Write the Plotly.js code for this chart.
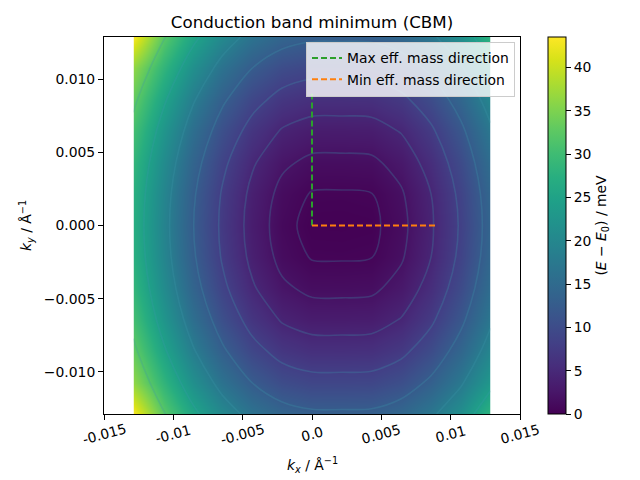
<!DOCTYPE html>
<html>
<head>
<meta charset="utf-8">
<script src="https://cdn.plot.ly/plotly-3.0.1.min.js"></script>
<style>html,body{margin:0;padding:0;background:#fff;}#chart{width:640px;height:480px;}</style>
</head>
<body>
<div id="chart"></div>
<script>
// k-grid (1/Å)
const kx = [-0.01287, -0.01073, -0.00858, -0.00644, -0.00429, -0.00215, 0, 0.00215, 0.00429, 0.00644, 0.00858, 0.01073, 0.01287];
const ky = [-0.01287, -0.01073, -0.00858, -0.00644, -0.00429, -0.00215, 0, 0.00215, 0.00429, 0.00644, 0.00858, 0.01073, 0.01287];
// E - E0 (meV), rows follow ky (bottom to top), columns follow kx
const energy = [
  [43.30, 32.53, 25.69, 20.34, 16.44, 14.03, 13.10, 13.07, 13.17, 14.45, 17.20, 21.44, 28.40],
  [36.28, 28.54, 21.70, 16.35, 12.45, 10.04,  9.11,  9.08,  9.18, 10.46, 13.21, 17.45, 23.13],
  [33.01, 25.27, 18.43, 13.08,  9.18,  6.77,  5.84,  5.81,  5.91,  7.19,  9.94, 14.18, 19.86],
  [30.47, 22.73, 15.89, 10.54,  6.64,  4.23,  3.30,  3.27,  3.37,  4.65,  7.40, 11.64, 17.32],
  [28.65, 20.91, 14.07,  8.72,  4.82,  2.41,  1.48,  1.45,  1.55,  2.83,  5.58,  9.82, 15.50],
  [27.56, 19.82, 12.98,  7.63,  3.73,  1.32,  0.39,  0.36,  0.46,  1.74,  4.49,  8.73, 14.41],
  [27.20, 19.46, 12.62,  7.27,  3.37,  0.96,  0.03,  0.00,  0.10,  1.38,  4.13,  8.37, 14.05],
  [27.56, 19.82, 12.98,  7.63,  3.73,  1.32,  0.39,  0.36,  0.46,  1.74,  4.49,  8.73, 14.41],
  [28.65, 20.91, 14.07,  8.72,  4.82,  2.41,  1.48,  1.45,  1.55,  2.83,  5.58,  9.82, 15.50],
  [30.47, 22.73, 15.89, 10.54,  6.64,  4.23,  3.30,  3.27,  3.37,  4.65,  7.40, 11.64, 17.32],
  [33.01, 25.27, 18.43, 13.08,  9.18,  6.77,  5.84,  5.81,  5.91,  7.19,  9.94, 14.18, 19.86],
  [36.28, 28.54, 21.70, 16.35, 12.45, 10.04,  9.11,  9.08,  9.18, 10.46, 13.21, 17.45, 23.13],
  [43.30, 32.53, 25.69, 20.34, 16.44, 14.03, 13.10, 13.07, 13.17, 14.45, 17.20, 21.44, 28.40]
];
const contourLevels = [0.5, 2, 4.5, 8, 12.5, 18, 24.5, 32];

const maxDirX = [0, 0];
const maxDirY = [0, 0.009];
const minDirX = [0, 0.009];
const minDirY = [0, 0];

const xTickVals = [-0.015, -0.01, -0.005, 0, 0.005, 0.01, 0.015];
const xTickText = ['-0.015', '-0.01', '-0.005', '0.0', '0.005', '0.01', '0.015'];
const yTickVals = [-0.01, -0.005, 0, 0.005, 0.01];
const yTickText = ['\u22120.010', '\u22120.005', '0.000', '0.005', '0.010'];
const cbTickVals = [0, 5, 10, 15, 20, 25, 30, 35, 40];

const FONT = 'DejaVu Sans, sans-serif';
const traces = [];

traces.push({
  type: 'contour', x: kx, y: ky, z: energy,
  colorscale: 'Viridis', zmin: 0, zmax: 43.5,
  contours: {coloring: 'heatmap', showlines: false, start: 0, end: 43.5, size: 0.5},
  line: {width: 0},
  hoverinfo: 'skip', showlegend: false,
  colorbar: {
    x: 1.067, xanchor: 'left', xpad: 0, ypad: 0,
    y: 0.5, yanchor: 'middle', len: 1, lenmode: 'fraction',
    thickness: 18, outlinewidth: 1, outlinecolor: '#000',
    ticks: 'outside', ticklen: 5, tickwidth: 1, tickcolor: '#000',
    tickvals: cbTickVals, tickfont: {family: FONT, size: 13.9, color: '#000'},
    title: {text: '(<i>E</i> \u2212 <i>E</i><sub>0</sub>) / meV', side: 'right',
            font: {family: FONT, size: 13.9, color: '#000'}}
  }
});

contourLevels.forEach(function (lv) {
  traces.push({
    type: 'contour', x: kx, y: ky, z: energy,
    autocontour: false,
    contours: {coloring: 'none', start: lv, end: lv, size: 1, showlines: true},
    line: {color: 'rgba(60,150,170,0.27)', width: 1.6, smoothing: 0.9},
    showscale: false, hoverinfo: 'skip', showlegend: false
  });
});

traces.push({
  type: 'scatter', mode: 'lines', x: maxDirX, y: maxDirY,
  name: 'Max eff. mass direction',
  line: {color: '#2ca02c', width: 2, dash: '6px,3px'}
});
traces.push({
  type: 'scatter', mode: 'lines', x: minDirX, y: minDirY,
  name: 'Min eff. mass direction',
  line: {color: '#ff7f0e', width: 2, dash: '6px,3px'}
});

const annotations = xTickVals.map(function (v, i) {
  return {
    xref: 'x', yref: 'paper', x: v, y: -0.052, xanchor: 'center', yanchor: 'middle',
    text: xTickText[i], textangle: -15, showarrow: false,
    font: {family: FONT, size: 13.9, color: '#000'}
  };
});
annotations.push({
  xref: 'paper', yref: 'paper', x: 0.5, y: -0.135, xanchor: 'center', yanchor: 'middle',
  text: '<i>k</i><sub><i>x</i></sub> / \u00C5<sup>\u22121</sup>', showarrow: false,
  font: {family: FONT, size: 13.9, color: '#000'}
});

const layout = {
  width: 640, height: 480,
  margin: {l: 104, r: 120, t: 37, b: 66, pad: 0},
  paper_bgcolor: '#fff', plot_bgcolor: '#fff',
  font: {family: FONT, size: 13.9, color: '#000'},
  title: {text: 'Conduction band minimum (CBM)', x: 312 / 640, xanchor: 'center',
          y: 1 - 22 / 480, yanchor: 'middle', font: {family: FONT, size: 16.7, color: '#000'}},
  xaxis: {
    range: [-0.015, 0.015], showgrid: false, zeroline: false,
    showline: true, mirror: true, linecolor: '#000', linewidth: 1,
    ticks: 'outside', ticklen: 5, tickwidth: 1, tickcolor: '#000',
    tickvals: xTickVals, showticklabels: false
  },
  yaxis: {
    range: [-0.01287, 0.01287], showgrid: false, zeroline: false,
    showline: true, mirror: true, linecolor: '#000', linewidth: 1,
    ticks: 'outside', ticklen: 5, tickwidth: 1, tickcolor: '#000',
    tickvals: yTickVals, ticktext: yTickText,
    tickfont: {family: FONT, size: 13.9, color: '#000'},
    title: {text: '<i>k</i><sub><i>y</i></sub> / \u00C5<sup>\u22121</sup>', standoff: 8,
            font: {family: FONT, size: 13.9, color: '#000'}}
  },
  annotations: annotations,
  legend: {
    x: 0.988, xanchor: 'right', y: 0.988, yanchor: 'top',
    bgcolor: 'rgba(255,255,255,0.8)', bordercolor: '#cccccc', borderwidth: 1,
    font: {family: FONT, size: 13.9, color: '#000'},
    tracegroupgap: 0, itemwidth: 30
  },
  showlegend: true
};

Plotly.newPlot('chart', traces, layout, {displayModeBar: false, staticPlot: true});
</script>
</body>
</html>
